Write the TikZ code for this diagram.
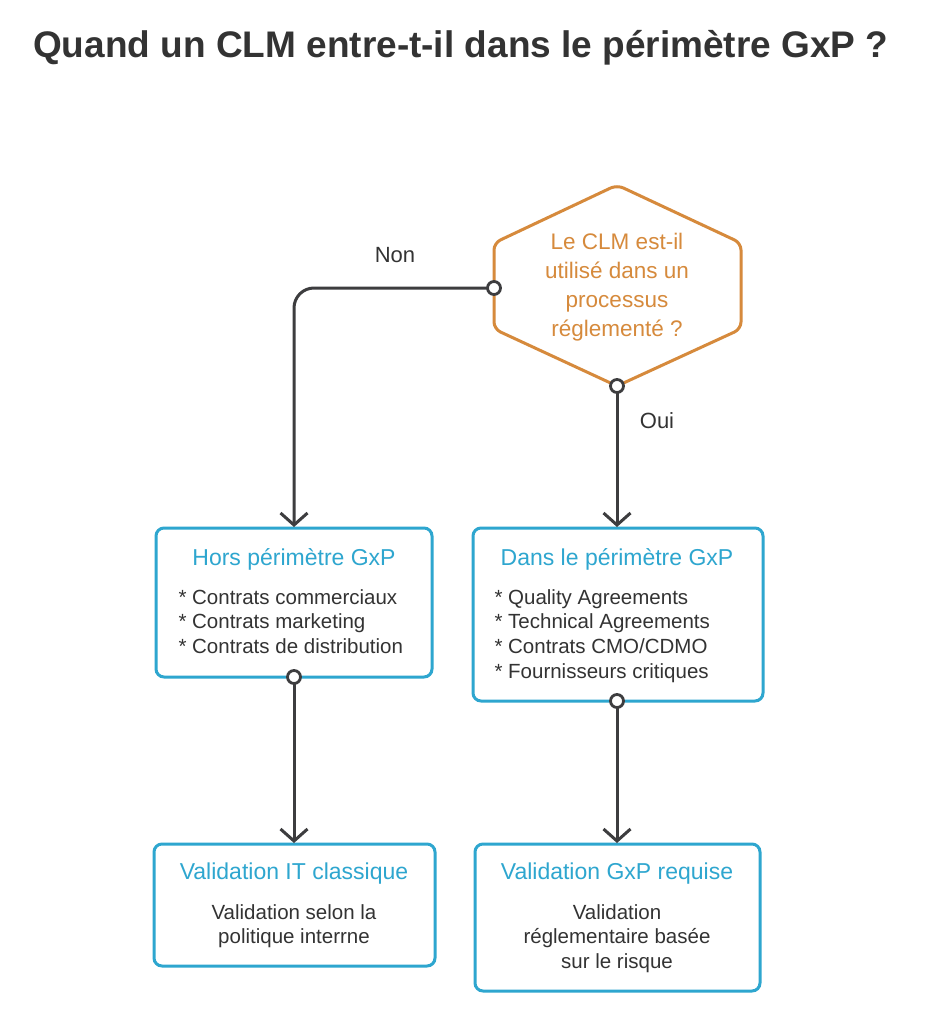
\documentclass[tikz,border=0pt]{standalone}
\usepackage{fontspec}
\setmainfont{Liberation Sans}
\usetikzlibrary{arrows.meta}
\definecolor{orangec}{HTML}{D68A3C}
\definecolor{cyanc}{HTML}{2EA6CF}
\definecolor{linec}{HTML}{3D3D3F}
\definecolor{textc}{HTML}{333333}
\tikzset{
  boxst/.style={draw=cyanc, line width=3pt, rounded corners=8pt, fill=white},
  conn/.style={draw=linec, line width=3pt, -{Straight Barb[length=12pt,width=27pt,line width=3pt]}},
  startdot/.style={circle, draw=linec, line width=2.8pt, fill=white, minimum size=13pt, inner sep=0pt},
  ttl/.style={text=cyanc, font=\fontsize{23}{27}\selectfont, anchor=center},
  itm/.style={text=textc, font=\fontsize{20.5}{24.6}\selectfont, align=left, anchor=north west},
  body/.style={text=textc, font=\fontsize{20.5}{24.6}\selectfont, align=center, anchor=north},
  lbl/.style={text=textc, font=\fontsize{22}{26}\selectfont}
}
\begin{document}
\begin{tikzpicture}[x=1pt,y=-1pt]
\useasboundingbox (0,0) rectangle (926,1024);
\fill[white] (0,0) rectangle (926,1024);
% title
\node[anchor=west, text=textc, font=\fontsize{37}{42}\bfseries, inner sep=0pt] (title) at (33,48) {Quand un CLM entre-t-il dans le périmètre GxP ?};
% hexagon
\draw[orangec, line width=3pt, rounded corners=7pt, fill=white] (617,185) -- (741,243) -- (741,329) -- (617,386) -- (494,329) -- (494,243) -- cycle;
\node[text=orangec, font=\fontsize{22.5}{29}\selectfont, align=center] (q) at (617,287) {Le CLM est-il\\utilisé dans un\\processus\\réglementé ?};
\coordinate (qL) at (494,288);
\coordinate (qB) at (617,386);
% boxes
\draw[boxst] (156,528) rectangle (432,677);
\node[ttl] (b1t) at (294,559) {Hors périmètre GxP};
\node[itm] (b1i) at (175,586) {* Contrats commerciaux\\* Contrats marketing\\* Contrats de distribution};
\coordinate (b1T) at (294,527);
\coordinate (b1B) at (294,677);

\draw[boxst] (473,528) rectangle (763,701);
\node[ttl] (b2t) at (617,559) {Dans le périmètre GxP};
\node[itm] (b2i) at (491,586) {* Quality Agreements\\* Technical Agreements\\* Contrats CMO/CDMO\\* Fournisseurs critiques};
\coordinate (b2T) at (617,527);
\coordinate (b2B) at (617,701);

\draw[boxst] (154,844) rectangle (435,966);
\node[ttl] (b3t) at (294,874) {Validation IT classique};
\node[body] (b3i) at (294,901) {Validation selon la\\politique interrne};
\coordinate (b3T) at (294,843);

\draw[boxst] (475,844) rectangle (760,991);
\node[ttl] (b4t) at (617,874) {Validation GxP requise};
\node[body] (b4i) at (617,901) {Validation\\réglementaire basée\\sur le risque};
\coordinate (b4T) at (617,843);
% connectors
\draw[conn, rounded corners=20pt] (qL) -- (294,288) -- (b1T);
\draw[conn] (qB) -- (b2T);
\draw[conn] (b1B) -- (b3T);
\draw[conn] (b2B) -- (b4T);
\node[startdot] at (qL) {};
\node[startdot] at (qB) {};
\node[startdot] at (b1B) {};
\node[startdot] at (b2B) {};
\node[lbl] (non) at (395,255) {Non};
\node[lbl] (oui) at (657,421) {Oui};
\end{tikzpicture}
\end{document}
